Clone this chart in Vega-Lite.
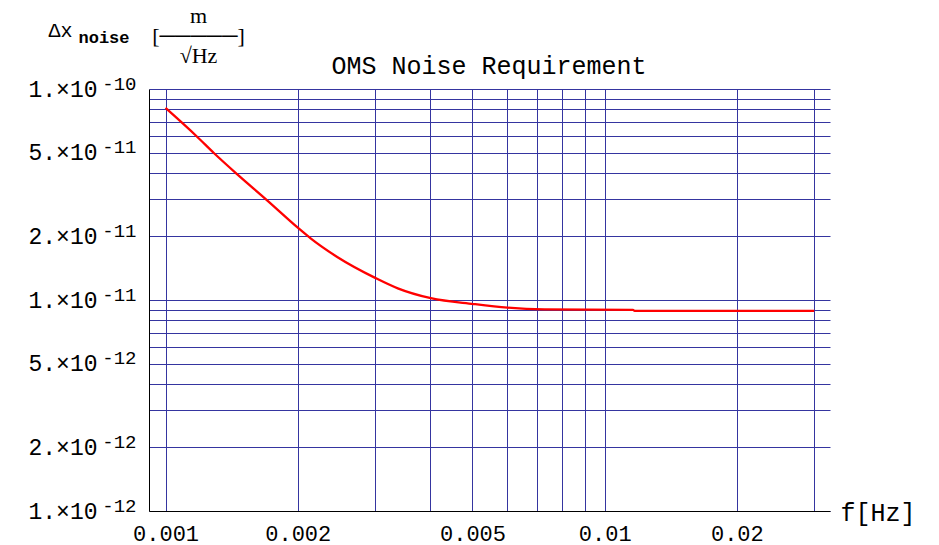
{
  "$schema": "https://vega.github.io/schema/vega-lite/v6.json",
  "width": 681,
  "height": 422,
  "autosize": {"type": "none"},
  "padding": {"left": 149, "top": 89, "right": 109, "bottom": 34},
  "background": "white",
  "config": {"view": {"stroke": null}},
  "data": {
    "values": [
      {"f": 0.001, "v": 8.13e-11},
      {"f": 0.00118, "v": 5.94e-11},
      {"f": 0.00129, "v": 4.96e-11},
      {"f": 0.001457, "v": 3.94e-11},
      {"f": 0.001706, "v": 2.96e-11},
      {"f": 0.002007, "v": 2.19e-11},
      {"f": 0.00214, "v": 1.96e-11},
      {"f": 0.00246, "v": 1.6e-11},
      {"f": 0.00301, "v": 1.27e-11},
      {"f": 0.00338, "v": 1.136e-11},
      {"f": 0.00402, "v": 1.02e-11},
      {"f": 0.00503, "v": 9.57e-12},
      {"f": 0.00601, "v": 9.2e-12},
      {"f": 0.00729, "v": 9.03e-12},
      {"f": 0.0116, "v": 8.97e-12},
      {"f": 0.0117, "v": 8.88e-12},
      {"f": 0.03, "v": 8.88e-12}
    ]
  },
  "layer": [
    {
      "mark": {"type": "line", "color": "#ff0000", "strokeWidth": 2.3, "interpolate": "monotone"},
      "encoding": {
        "x": {
          "field": "f", "type": "quantitative",
          "scale": {"type": "log", "domain": [0.000917, 0.03259], "nice": false},
          "axis": {
            "values": [0.001, 0.002, 0.003, 0.004, 0.005, 0.006, 0.007, 0.008, 0.009, 0.01, 0.02, 0.03],
            "format": ".3~f",
            "labelExpr": "indexof([0.001, 0.002, 0.005, 0.01, 0.02], datum.value) >= 0 ? datum.label : ''",
            "grid": true, "gridColor": "#3535a0", "gridWidth": 1, "gridOpacity": 1,
            "ticks": false, "domain": true, "domainColor": "#000000", "domainWidth": 1,
            "labelFont": "Liberation Mono", "labelFontSize": 22, "labelColor": "#000000",
            "labelPadding": 12, "labelOverlap": false, "labelFlush": false, "labelBaseline": "top",
            "title": "f[Hz]", "titleFont": "Liberation Mono", "titleFontSize": 25, "titleFontWeight": "normal",
            "titleColor": "#000000", "titleAlign": "left", "titleBaseline": "middle",
            "titleX": 691, "titleY": 1, "titleAngle": 0
          }
        },
        "y": {
          "field": "v", "type": "quantitative",
          "scale": {"type": "log", "domain": [1e-12, 1e-10], "nice": false},
          "axis": {
            "values": [1e-12, 2e-12, 3e-12, 4e-12, 5e-12, 6e-12, 7e-12, 8e-12, 9e-12, 1e-11, 2e-11, 3e-11, 4e-11, 5e-11, 6e-11, 7e-11, 8e-11, 9e-11, 1e-10],
            "labelExpr": "indexof([1, 2, 5], round(datum.value / pow(10, floor(log(datum.value) / LN10 + 0.000001)))) >= 0 ? (round(datum.value / pow(10, floor(log(datum.value) / LN10 + 0.000001))) + '.×10') : ''",
            "grid": true, "gridColor": "#3535a0", "gridWidth": 1, "gridOpacity": 1,
            "ticks": false, "domain": true, "domainColor": "#000000", "domainWidth": 1,
            "labelFont": "Liberation Mono", "labelFontSize": 23, "labelColor": "#000000",
            "labelPadding": 52, "labelOverlap": false, "labelFlush": false, "labelBaseline": "middle",
            "labelAlign": "right",
            "title": ["m", "[─────]", "√Hz"],
            "titleFont": "Liberation Serif", "titleFontSize": 22, "titleFontWeight": "normal",
            "titleColor": "#000000", "titleAngle": 0, "titleAlign": "center", "titleBaseline": "alphabetic",
            "titleLineHeight": 20, "titleX": 49, "titleY": -67
          }
        }
      }
    },
    {
      "mark": {"type": "line", "strokeOpacity": 0},
      "encoding": {
        "x": {
          "field": "f", "type": "quantitative",
          "scale": {"type": "log", "domain": [0.000917, 0.03259], "nice": false},
          "axis": {
            "orient": "top", "domain": false, "ticks": false, "labels": false, "grid": false,
            "title": "OMS Noise Requirement", "titleFont": "Liberation Mono", "titleFontSize": 25,
            "titleFontWeight": "normal", "titleColor": "#000000", "titleAlign": "center",
            "titleBaseline": "alphabetic", "titleX": 339.5, "titleY": -16, "titleAngle": 0
          }
        },
        "y": {
          "field": "v", "type": "quantitative",
          "scale": {"type": "log", "domain": [1e-12, 1e-10], "nice": false},
          "axis": {
            "orient": "left", "domain": false, "ticks": false, "grid": false,
            "values": [1e-12, 2e-12, 5e-12, 1e-11, 2e-11, 5e-11, 1e-10],
            "labelExpr": "'-' + (-floor(log(datum.value) / LN10 + 0.000001))",
            "labelFont": "Liberation Mono", "labelFontSize": 19, "labelColor": "#000000",
            "labelPadding": 13, "labelOffset": -6, "labelOverlap": false, "labelFlush": false,
            "labelBaseline": "middle", "labelAlign": "right",
            "title": "Δx", "titleFont": "Liberation Mono", "titleFontSize": 20,
            "titleFontWeight": "normal", "titleColor": "#000000", "titleAngle": 0,
            "titleAlign": "left", "titleBaseline": "alphabetic", "titleX": -101, "titleY": -53
          }
        }
      }
    },
    {
      "mark": {"type": "line", "strokeOpacity": 0},
      "encoding": {
        "x": {
          "field": "f", "type": "quantitative",
          "scale": {"type": "log", "domain": [0.000917, 0.03259], "nice": false},
          "axis": null
        },
        "y": {
          "field": "v", "type": "quantitative",
          "scale": {"type": "log", "domain": [1e-12, 1e-10], "nice": false},
          "axis": {
            "orient": "left", "domain": false, "ticks": false, "labels": false, "grid": false,
            "title": "noise", "titleFont": "Liberation Mono", "titleFontSize": 17,
            "titleFontWeight": "bold", "titleColor": "#000000", "titleAngle": 0,
            "titleAlign": "left", "titleBaseline": "alphabetic", "titleX": -71, "titleY": -47
          }
        }
      }
    }
  ],
  "resolve": {
    "scale": {"x": "independent", "y": "independent"},
    "axis": {"x": "independent", "y": "independent"}
  }
}
